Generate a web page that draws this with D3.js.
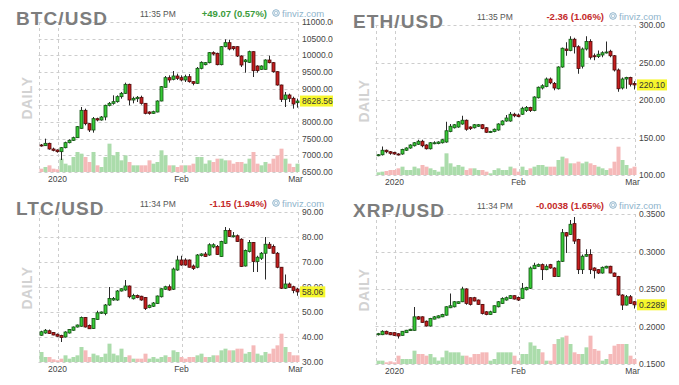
<!DOCTYPE html>
<html>
<head>
<meta charset="utf-8">
<title>Crypto daily charts</title>
<script src="https://cdnjs.cloudflare.com/ajax/libs/d3/7.8.5/d3.min.js"></script>
<style>
    body { margin: 0; background: #fff; font-family: "Liberation Sans", Arial, sans-serif; }
    svg { display: block; }
</style>
</head>
<body>
<svg id="chart"></svg>
<script>
// daily candles, Dec 28 2019 .. Mar 1 2020, rows are [open, high, low, close]
const dates = d3.utcDay.range(new Date(Date.UTC(2019, 11, 28)), new Date(Date.UTC(2020, 2, 2)));

const btcRows = [
    [7310,7340,7260,7290],[7290,7500,7280,7360],[7360,7380,7170,7190],[7190,7230,7120,7150],[7160,7180,7080,7110],
    [7110,7250,6860,7230],[7230,7410,7210,7380],[7380,7480,7360,7450],[7450,7560,7430,7530],[7530,7880,7520,7860],
    [7810,8450,7800,8350],[8350,8400,7900,7950],[7950,7970,7700,7760],[7760,8150,7680,8100],[8100,8130,8020,8060],
    [8060,8180,8040,8150],[8150,8520,8050,8500],[8500,8600,8470,8560],[8560,8800,8520,8610],[8610,8800,8580,8760],
    [8760,8900,8700,8860],[8860,9180,8840,9130],[9130,9150,8500,8660],[8660,8760,8560,8710],[8700,8780,8600,8740],
    [8740,8790,8520,8560],[8560,8570,8230,8260],[8300,8320,8220,8260],[8260,8340,8240,8310],[8300,8650,8290,8630],
    [8630,9080,8620,9060],[9040,9380,9030,9330],[9330,9400,9180,9260],[9280,9530,9250,9380],[9380,9450,9260,9310],
    [9330,9400,9220,9260],[9260,9420,9200,9360],[9360,9440,9180,9210],[9210,9230,9100,9160],[9160,9650,9140,9610],
    [9610,9820,9580,9790],[9720,9800,9700,9780],[9780,10100,9760,10080],[10080,10120,10000,10040],[10060,10080,9700,9720],
    [9720,10280,9700,10260],[10260,10480,10240,10380],[10380,10470,10150,10190],[10260,10280,10150,10200],[10260,10270,9950,9980],
    [9980,10000,9650,9710],[9810,9890,9480,9860],[9790,10140,9770,10110],[10110,10120,9350,9540],[9680,9700,9480,9540],
    [9580,9700,9560,9680],[9580,9880,9570,9860],[9860,9990,9760,9780],[9780,9800,9480,9510],[9510,9520,9090,9110],
    [9110,9120,8600,8680],[8680,8900,8450,8810],[8810,8850,8600,8710],[8710,8760,8400,8540],[8580,8700,8430,8628.56]
];
const btcVol = [10,15,20,10,8,40,25,20,45,60,55,45,30,60,20,15,45,85,50,60,35,50,30,20,20,20,20,35,25,30,65,50,20,
    20,15,20,20,20,25,45,45,25,35,30,40,40,35,35,25,30,30,25,40,60,25,20,30,25,40,50,70,40,25,15,25];

const ethRows = [
    [126,128,125,127],[127,138,126,133],[133,134,129,131],[131,132,127,129],[130,131,127,128],
    [128,129,126,127],[128,135,127,134],[133,137,132,136],[136,141,135,140],[139,144,138,143],
    [141,147,140,145],[145,147,137,139],[140,141,134,135],[135,144,134,143],[142,145,141,143],
    [142,145,141,144],[143,148,142,147],[144,171,143,159],[158,168,157,165],[163,168,162,167],
    [164,172,163,171],[168,179,167,173],[173,174,159,161],[164,165,160,162],[163,168,162,167],
    [165,168,164,167],[167,168,161,162],[163,164,156,157],[157,159,156,158],[158,162,157,161],
    [160,169,159,168],[167,173,166,172],[172,180,171,176],[172,184,171,181],[181,183,177,179],
    [180,182,177,178],[181,191,180,189],[186,192,184,190],[190,191,184,186],[186,205,185,204],
    [203,218,202,217],[216,221,214,219],[218,230,217,228],[228,230,221,223],[222,224,213,216],
    [215,245,214,244],[244,270,243,269],[268,277,259,266],[266,285,265,281],[281,283,262,271],
    [271,273,235,242],[245,270,242,268],[268,285,266,278],[278,281,254,257],[259,262,253,258],
    [258,266,256,261],[260,265,257,263],[263,278,262,264],[265,267,257,259],[259,260,238,240],
    [240,242,211,215],[216,230,214,228],[228,231,215,230],[230,231,218,221],[222,225,214,220.10]
];
const ethVol = [8,10,12,15,15,20,25,15,15,25,20,30,25,20,15,10,25,65,35,25,30,25,15,20,20,15,15,10,5,15,20,15,15,
    25,20,10,25,15,20,25,30,30,25,25,25,45,55,50,35,35,40,35,40,35,30,25,20,15,20,40,85,45,30,20,25];

const ltcRows = [
    [40.7,42.5,40.5,42.1],[41.6,43.2,41.3,42.7],[42.5,43,41.2,41.4],[41.8,42,40.7,40.8],[41.1,41.4,40.1,40.3],
    [40.6,40.9,38,39.8],[40,42.3,39.8,42],[41.6,43.2,41.4,43],[42.7,44.2,42.5,44],[44,45,43.8,44.8],
    [44.3,48.2,44.1,47.8],[47.8,48,43.8,44],[44.6,45,43.2,43.3],[43.4,47.6,43.2,47.4],[47,50.5,46.8,49.7],
    [49.5,50.2,49.2,50],[49.4,53.2,48.7,52.8],[52.8,60,52.5,55.4],[54.8,56,54.5,55.4],[54.8,58.8,54.5,58.4],
    [58.4,59.5,58.2,59.3],[58.8,62.8,58.5,60.4],[60.4,60.6,55.5,56.1],[55.3,57.3,55,56.6],[56.6,57,55.5,55.8],
    [56.3,56.5,54.5,54.8],[55.8,56,50.8,51.4],[51.8,53,51.5,52.7],[52.3,54,52,53.6],[53.4,56.6,53.2,56.4],
    [56.1,59.5,55.8,59.3],[59.1,60.5,58.8,60.1],[60.1,61,58.5,58.8],[59.1,67.8,58.8,67.2],[66.8,72.5,66.5,70.8],
    [70.8,72.5,68.5,68.8],[70.8,71.5,68.5,68.8],[70.8,71,67.8,67.9],[68.4,69,66.8,67.4],[67.9,73.2,67.5,72.8],
    [72.6,73.5,72.2,73.2],[73.2,74,72,72.2],[72.8,77.5,72.5,76.9],[76,77.5,75.5,76.9],[76.2,76.8,72.8,73],
    [72.2,78.5,72,78.2],[77.5,84,77.2,82.6],[82.6,83.5,80,80.2],[80.2,82,79.8,80.5],[80.5,81,78,78.2],
    [79.1,79.5,68,68.2],[68.4,75,68.2,74.6],[74.2,78.8,73.8,77.8],[77.8,78,66,70.2],[70.2,72.5,66,71.9],
    [71.5,74,70.8,73.5],[73.5,80,63,77.1],[77.1,78,75.2,75.5],[76.2,77,73.3,73.5],[73.5,74,67.5,67.9],
    [67.9,68,59.2,59.5],[59.5,65,59.2,61.2],[61.2,61.8,59.6,59.8],[60.1,60.5,57.5,58.6],[59.2,59.6,56.5,58.06]
];
const ltcVol = [30,15,15,8,5,10,20,10,15,20,45,35,15,25,20,15,25,55,25,20,40,15,20,10,10,10,25,10,15,10,15,20,15,
    35,30,15,10,15,15,20,25,15,15,20,20,35,40,35,35,40,40,25,30,50,25,20,30,25,40,50,85,45,30,20,20];

const xrpRows = [
    [0.1890,0.1915,0.1880,0.1904],[0.1891,0.1950,0.1885,0.1936],[0.1936,0.1945,0.1895,0.1900],[0.1918,0.1925,0.1885,0.1890],[0.1918,0.1922,0.1875,0.1882],
    [0.1904,0.1910,0.1840,0.1873],[0.1882,0.1940,0.1878,0.1936],[0.1918,0.1955,0.1915,0.1950],[0.1945,0.1970,0.1940,0.1963],[0.1949,0.2260,0.1945,0.2129],
    [0.2129,0.2140,0.2090,0.2098],[0.2129,0.2135,0.2050,0.2055],[0.2070,0.2080,0.2000,0.2007],[0.2007,0.2115,0.2000,0.2106],[0.2098,0.2140,0.2095,0.2129],
    [0.2115,0.2150,0.2110,0.2142],[0.2129,0.2170,0.2125,0.2160],[0.2151,0.2270,0.2145,0.2263],[0.2250,0.2440,0.2245,0.2277],[0.2263,0.2340,0.2255,0.2330],
    [0.2308,0.2335,0.2300,0.2330],[0.2330,0.2530,0.2325,0.2501],[0.2501,0.2510,0.2290,0.2308],[0.2384,0.2390,0.2280,0.2295],[0.2384,0.2395,0.2335,0.2340],
    [0.2353,0.2360,0.2290,0.2295],[0.2295,0.2300,0.2160,0.2174],[0.2196,0.2205,0.2150,0.2160],[0.2160,0.2210,0.2155,0.2196],[0.2187,0.2280,0.2180,0.2277],
    [0.2263,0.2340,0.2255,0.2330],[0.2308,0.2390,0.2300,0.2375],[0.2353,0.2400,0.2345,0.2384],[0.2375,0.2420,0.2370,0.2411],[0.2411,0.2415,0.2360,0.2366],
    [0.2388,0.2400,0.2340,0.2353],[0.2375,0.2580,0.2370,0.2510],[0.2490,0.2530,0.2480,0.2519],[0.2510,0.2800,0.2500,0.2780],[0.2771,0.2850,0.2765,0.2816],
    [0.2803,0.2840,0.2795,0.2825],[0.2825,0.2840,0.2620,0.2758],[0.2758,0.2830,0.2750,0.2803],[0.2825,0.2835,0.2770,0.2780],[0.2780,0.2790,0.2660,0.2667],
    [0.2667,0.2880,0.2660,0.2869],[0.2869,0.3300,0.2860,0.3251],[0.3251,0.3260,0.2980,0.3206],[0.3228,0.3420,0.3220,0.3363],[0.3372,0.3460,0.3100,0.3139],
    [0.3161,0.3170,0.2700,0.2758],[0.2758,0.2960,0.2700,0.2937],[0.2937,0.3030,0.2930,0.2959],[0.2959,0.3030,0.2700,0.2758],[0.2780,0.2790,0.2640,0.2744],
    [0.2758,0.2765,0.2700,0.2713],[0.2713,0.2800,0.2705,0.2789],[0.2780,0.2810,0.2775,0.2803],[0.2803,0.2810,0.2710,0.2713],[0.2713,0.2720,0.2660,0.2667],
    [0.2667,0.2675,0.2410,0.2420],[0.2420,0.2430,0.2220,0.2286],[0.2286,0.2420,0.2280,0.2397],[0.2397,0.2420,0.2300,0.2308],[0.2330,0.2340,0.2240,0.2289]
];
const xrpVol = [10,10,5,8,5,25,15,15,15,40,30,30,25,30,20,10,20,40,35,35,35,25,25,20,30,30,35,35,10,15,35,35,35,
    35,25,10,30,30,65,55,45,35,10,10,60,75,80,85,60,35,30,30,50,85,45,40,10,15,30,55,60,60,60,25,15];

const btcTicks = [6500, 7000, 7500, 8000, 8500, 9000, 9500, 10000, 10500, 11000];
const ethTicks = [100, 150, 200, 250, 300];
const ltcTicks = [30, 40, 50, 60, 70, 80, 90];
const xrpTicks = [0.15, 0.20, 0.25, 0.30, 0.35];
const xLabels = [['2020', new Date(Date.UTC(2020, 0, 1))], ['Feb', new Date(Date.UTC(2020, 1, 1))], ['Mar', new Date(Date.UTC(2020, 2, 1))]];

const panels = [
    { sym: 'BTC/USD', time: '11:35 PM', change: '+49.07 (0.57%)', rows: btcRows, vol: btcVol, ticks: btcTicks, fmt: '.2f', last: '8628.56', dx: 0, dy: 0, w: 333 },
    { sym: 'ETH/USD', time: '11:35 PM', change: '-2.36 (1.06%)', rows: ethRows, vol: ethVol, ticks: ethTicks, fmt: '.2f', last: '220.10', dx: 337, dy: 3, w: 342 },
    { sym: 'LTC/USD', time: '11:34 PM', change: '-1.15 (1.94%)', rows: ltcRows, vol: ltcVol, ticks: ltcTicks, fmt: '.2f', last: '58.06', dx: 0, dy: 190, w: 333 },
    { sym: 'XRP/USD', time: '11:34 PM', change: '-0.0038 (1.65%)', rows: xrpRows, vol: xrpVol, ticks: xrpTicks, fmt: '.4f', last: '0.2289', dx: 337, dy: 192, w: 342 }
];

const W = 679, H = 385;
const plotL = 38.5, plotR = 298, plotT = 22, plotB = 172;
const upFill = '#36c936', upLine = '#145214', dnFill = '#c41e1e', dnLine = '#4d0a0a';

const svg = d3.select('#chart').attr('width', W).attr('height', H);
svg.append('rect').attr('width', W).attr('height', H).attr('fill', '#fff');
const defs = svg.append('defs');

const x = d3.scaleUtc()
    .domain([dates[0], dates[dates.length - 1]])
    .range([41.5, 297.5]);
const vScale = d3.scaleLinear().domain([0, 90]).range([0, 30]);

panels.forEach((p, i) => {
    defs.append('clipPath').attr('id', 'clip' + i)
        .append('rect').attr('x', 0).attr('y', -3).attr('width', p.w).attr('height', 192);

    const g = svg.append('g')
        .attr('transform', `translate(${p.dx},${p.dy})`)
        .attr('clip-path', `url(#clip${i})`);

    const y = d3.scaleLinear()
        .domain([p.ticks[0], p.ticks[p.ticks.length - 1]])
        .range([plotB, plotT]);
    const lastY = y(+p.last);

    // grid
    const grid = g.append('g').attr('stroke', '#cdcdcd').attr('stroke-dasharray', '3,3').attr('stroke-width', 1);
    grid.selectAll('.h').data(p.ticks).join('line')
        .attr('x1', plotL).attr('x2', plotR)
        .attr('y1', d => Math.round(y(d)) + 0.5).attr('y2', d => Math.round(y(d)) + 0.5);
    const vx = [plotL, x(xLabels[0][1]), x(xLabels[1][1]), plotR];
    grid.selectAll('.v').data(vx).join('line')
        .attr('x1', d => Math.round(d) + 0.5).attr('x2', d => Math.round(d) + 0.5)
        .attr('y1', plotT).attr('y2', plotB);

    // DAILY
    g.append('text')
        .attr('transform', 'translate(32,98) rotate(-90)')
        .attr('text-anchor', 'middle')
        .attr('font-size', 14).attr('font-weight', 'bold')
        .attr('fill', '#d2d2d2').attr('letter-spacing', 0.5)
        .text('DAILY');

    // volume
    const data = p.rows.map((r, k) => ({ date: dates[k], o: r[0], h: r[1], l: r[2], c: r[3], v: p.vol[k] }));
    g.append('g').selectAll('rect').data(data).join('rect')
        .attr('x', d => x(d.date) - 2)
        .attr('width', 4)
        .attr('y', d => plotB - vScale(d.v))
        .attr('height', d => vScale(d.v))
        .attr('fill', d => d.c >= d.o ? '#abdcab' : '#f5b9b9');

    // candles
    const cg = g.append('g');
    cg.selectAll('line').data(data).join('line')
        .attr('x1', d => x(d.date)).attr('x2', d => x(d.date))
        .attr('y1', d => y(d.h)).attr('y2', d => y(d.l))
        .attr('stroke', '#2a2a2a').attr('stroke-width', 1);
    cg.selectAll('rect').data(data).join('rect')
        .attr('x', d => x(d.date) - 1.5)
        .attr('width', 3)
        .attr('y', d => y(Math.max(d.o, d.c)))
        .attr('height', d => Math.max(1, Math.abs(y(d.o) - y(d.c))))
        .attr('fill', d => d.c >= d.o ? upFill : dnFill)
        .attr('stroke', d => d.c >= d.o ? upLine : dnLine)
        .attr('stroke-width', 0.8);

    // y labels (the one hidden under the price box is left out)
    const fmt = d3.format(p.fmt);
    g.append('g').selectAll('text').data(p.ticks.filter(t => Math.abs(y(t) - lastY) > 4.5)).join('text')
        .attr('x', 302).attr('y', d => y(d) + 3)
        .attr('font-size', 8.5).attr('fill', '#444')
        .text(d => fmt(d));

    // x labels
    g.append('g').selectAll('text').data(xLabels).join('text')
        .attr('x', d => x(d[1]) - (d[0] === 'Mar' ? 2 : 0)).attr('y', 182)
        .attr('text-anchor', 'middle')
        .attr('font-size', 8.5).attr('fill', '#444')
        .text(d => d[0]);

    // last price box
    const box = g.append('rect').attr('x', 300).attr('y', lastY - 5.5).attr('height', 11).attr('fill', '#f6f62c');
    const lt = g.append('text').attr('x', 302).attr('y', lastY + 3)
        .attr('font-size', 8.5).attr('fill', '#333').text(p.last);
    box.attr('width', lt.node().getComputedTextLength() + 4);

    // header
    g.append('text').attr('x', 16).attr('y', 25)
        .attr('font-size', 19).attr('font-weight', 'bold').attr('letter-spacing', 1.1)
        .attr('fill', '#7d7d7d').text(p.sym);
    g.append('text').attr('x', 140).attr('y', 17)
        .attr('font-size', 8.5).attr('fill', '#555').text(p.time);
    g.append('text').attr('x', 267).attr('y', 16.5).attr('text-anchor', 'end')
        .attr('font-size', 9.5).attr('font-weight', 'bold')
        .attr('fill', p.change[0] === '+' ? '#3c9c3c' : '#c42a2a')
        .text(p.change);
    const logo = g.append('g').attr('transform', 'translate(276,13)');
    logo.append('circle').attr('r', 3.3).attr('fill', 'none').attr('stroke', '#8fb4cc').attr('stroke-width', 1);
    logo.append('rect').attr('x', -1.3).attr('y', -1.3).attr('width', 2.6).attr('height', 2.6)
        .attr('fill', 'none').attr('stroke', '#8fb4cc').attr('stroke-width', 0.7);
    g.append('text').attr('x', 282).attr('y', 16.5)
        .attr('font-size', 9.5).attr('fill', '#8fb4cc').text('finviz.com');
});
</script>
</body>
</html>
